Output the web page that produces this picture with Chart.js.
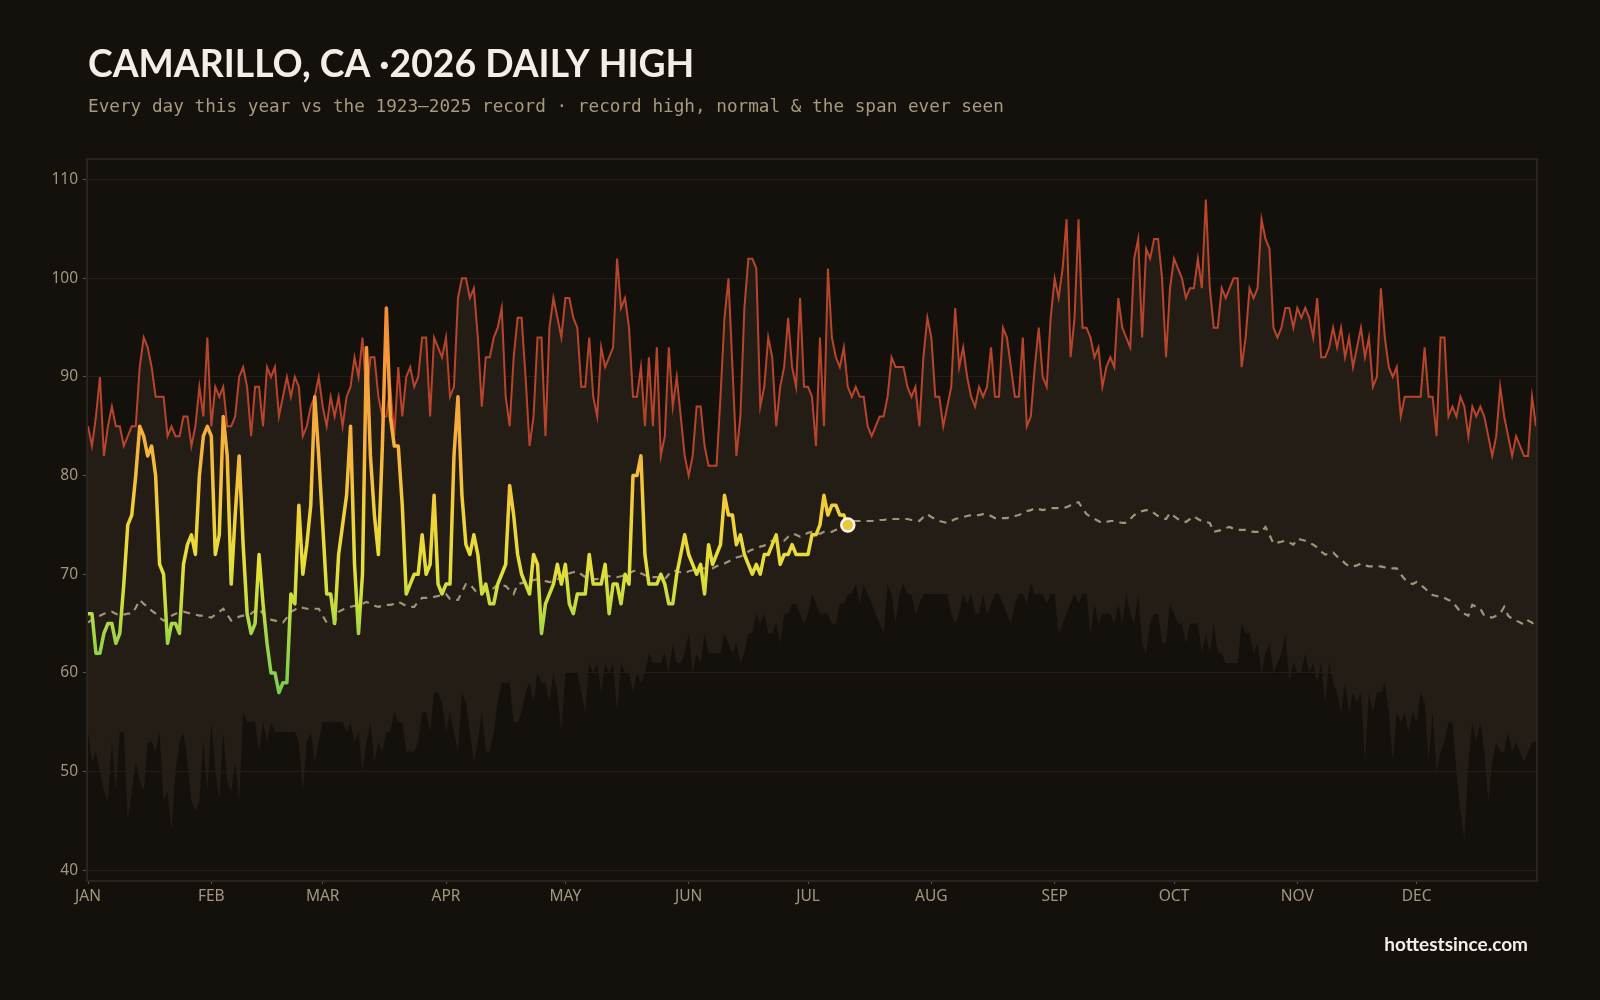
<!DOCTYPE html>
<html>
<head>
<meta charset="utf-8">
<title>Camarillo, CA · 2026 daily high</title>
<script src="https://cdn.jsdelivr.net/npm/chart.js@4.4.1/dist/chart.umd.min.js"></script>
<style>
  html, body { margin: 0; padding: 0; background: #14110d; }
  #wrap { position: relative; width: 1600px; height: 1000px; }
  canvas { display: block; }
</style>
</head>
<body>
<div id="wrap"><canvas id="chart" width="1600" height="1000"></canvas></div>
<script>
// ── DATA ──────────────────────────────────────────────
// day-of-year index 0..364
const monthStarts = [0, 31, 59, 90, 120, 151, 181, 212, 243, 273, 304, 334];
const monthLabels = ['JAN','FEB','MAR','APR','MAY','JUN','JUL','AUG','SEP','OCT','NOV','DEC'];
const yTicks = [40, 50, 60, 70, 80, 90, 100, 110];

// record high 1923–2025
const recordHigh = [
  85,83,86,90,82,85,87,85,85,83, 84,85,85,91,94,93,91,88,88,88,
  84,85,84,84,86,86,83,85,89,86, 94,85,89,88,89,85,85,86,90,91,
  89,84,89,89,85,91,90,91,86,88, 90,88,90,89,84,85,87,88,90,87,
  85,88,86,88,85,88,89,92,90,94, 88,92,92,88,86,86,89,84,91,86,
  90,91,89,90,94,94,86,94,93,92, 94,88,89,98,100,100,98,99,94,87,
  92,92,94,95,97,88,85,92,96,96, 90,83,86,94,94,84,95,98,96,94,
  98,98,96,95,89,89,94,88,86,93, 91,92,93,102,97,98,95,88,88,91,
  85,92,85,93,82,84,93,87,90,86, 82,80,82,87,87,83,81,81,81,88,
  96,100,91,82,86,97,102,102,101,87, 89,94,92,85,89,91,96,91,89,98,
  89,89,88,83,94,85,101,94,92,91, 93,89,88,89,88,88,85,84,85,86,
  86,88,92,91,91,91,89,88,89,85, 92,96,94,88,88,85,87,89,97,91,
  93,90,88,87,89,88,89,93,88,88, 95,94,91,88,88,94,85,86,91,95,
  90,89,96,100,98,101,106,92,96,106, 95,95,94,92,93,89,91,92,91,98,
  95,94,93,102,104,94,103,102,104,104, 100,92,99,102,101,100,98,99,99,102,
  99,108,99,95,95,99,98,99,100,100, 91,94,99,98,99,106,104,103,95,94,
  95,97,97,95,97,96,97,96,94,98, 92,92,93,95,93,95,92,94,91,93,
  95,92,94,89,90,99,94,91,90,91, 86,88,88,88,88,88,93,88,88,84,
  94,94,86,87,86,88,87,84,87,86, 87,86,84,82,84,89,86,84,82,84,
  83,82,82,88,85
];

// record low of the daily high 1923–2025
const recordLow = [
  54,51,52,50,48,47,53,48,54,54, 45,48,51,49,48,53,53,52,54,47,
  48,44,50,53,54,51,47,46,47,53, 48,55,50,47,54,49,48,51,47,56,
  55,55,55,52,55,53,55,54,54,54, 54,54,54,53,48,53,54,51,53,55,
  55,55,55,55,55,54,55,53,54,50, 53,55,51,53,52,54,54,56,55,55,
  52,52,52,53,56,56,54,58,58,57, 54,56,54,52,58,57,54,51,53,56,
  52,52,54,57,59,59,59,55,55,56, 58,59,57,60,59,59,57,60,58,54,
  60,60,60,60,58,56,61,60,61,58, 61,60,61,56,61,60,60,58,60,59,
  60,62,61,61,61,62,60,63,61,61, 62,64,60,62,61,64,62,62,62,62,
  64,63,62,63,61,62,64,64,66,65, 66,64,64,65,63,66,66,67,67,66,
  65,66,68,67,66,66,66,65,65,67, 67,68,68,69,67,69,68,67,66,65,
  64,69,68,65,68,69,68,68,66,67, 68,68,68,68,68,68,68,66,65,66,
  68,67,68,66,66,68,66,67,68,68, 67,66,65,67,68,68,67,69,68,68,
  68,67,68,68,64,65,66,67,68,67, 68,68,64,67,65,66,66,66,65,67,
  65,68,66,65,68,63,62,65,66,66, 63,63,67,66,65,65,63,65,65,65,
  62,64,62,65,62,62,61,61,61,61, 65,64,64,62,63,60,62,63,60,61,
  62,64,59,61,60,60,62,60,61,59, 61,57,61,59,58,56,59,56,58,57,
  58,51,58,56,58,58,59,56,51,56, 55,56,54,56,55,58,57,51,56,50,
  52,53,55,55,50,46,43,51,55,53, 55,52,47,51,53,52,52,54,52,53,
  52,51,52,53,53
];

// normal daily high
const normalHigh = [
  65.1,65.4,65.6,65.8,66.0,66.1,66.2,66.0,65.8,65.9, 66.0,66.0,66.6,67.4,67.0,66.7,66.3,66.0,65.6,65.3,
  65.5,65.8,66.0,66.1,66.2,66.1,66.0,65.9,65.8,65.8, 65.7,65.6,65.9,66.2,66.5,65.9,65.3,65.5,65.7,65.8,
  65.9,66.0,66.3,66.5,66.0,65.6,65.4,65.3,65.2,65.1, 65.6,66.2,66.4,66.7,66.6,66.5,66.5,66.5,66.5,65.8,
  65.1,65.1,65.1,66.2,66.4,66.6,66.7,66.8,66.9,67.0, 67.2,67.0,66.8,66.7,66.8,66.9,66.9,67.0,67.2,67.0,
  66.8,66.7,66.7,67.2,67.6,67.6,67.6,67.7,67.8,67.9, 68.0,67.5,67.4,67.4,68.2,69.0,69.0,68.5,68.0,68.1,
  68.3,68.3,68.6,69.0,68.9,68.8,68.4,68.0,69.0,69.1, 69.2,69.3,69.4,69.5,69.4,69.3,69.2,69.3,69.5,69.6,
  69.7,70.1,70.2,70.3,70.0,69.7,69.6,69.5,69.5,69.7, 69.9,69.8,69.7,69.7,69.8,69.9,70.1,70.3,70.4,70.1,
  69.9,69.8,69.7,69.7,69.6,69.5,70.0,70.4,70.3,70.2, 70.1,70.3,70.4,70.5,70.6,70.6,70.6,70.6,70.8,71.0,
  71.1,71.3,71.5,71.7,71.8,72.0,72.3,72.5,72.6,72.8, 72.9,73.2,73.4,73.4,73.4,73.4,73.8,74.1,74.0,73.8,
  74.0,74.2,74.3,74.2,74.1,74.3,74.3,74.3,74.5,74.6, 74.8,75.1,75.4,75.4,75.4,75.4,75.4,75.4,75.4,75.5,
  75.5,75.6,75.6,75.6,75.6,75.6,75.6,75.5,75.5,75.4, 75.8,76.1,75.8,75.6,75.4,75.3,75.2,75.4,75.6,75.7,
  75.8,75.9,76.0,76.0,76.0,76.1,76.1,75.9,75.7,75.7, 75.7,75.7,75.8,75.9,76.0,76.2,76.4,76.5,76.7,76.6,
  76.5,76.6,76.7,76.7,76.7,76.7,76.8,77.0,77.2,77.3, 76.7,76.1,75.8,75.6,75.4,75.2,75.3,75.4,75.4,75.3,
  75.2,75.2,75.6,76.0,76.3,76.4,76.5,76.5,76.2,75.9, 75.7,75.6,76.2,75.9,75.6,75.4,75.3,75.6,75.9,75.6,
  75.4,75.3,75.2,74.3,74.4,74.5,74.7,74.8,74.6,74.5, 74.5,74.5,74.4,74.3,74.3,74.3,74.8,74.0,73.1,73.2,
  73.3,73.4,73.2,73.0,73.6,73.5,73.4,73.2,73.0,72.7, 72.3,72.0,72.1,72.2,71.8,71.5,71.1,70.8,70.8,70.9,
  71.1,70.9,70.8,70.8,70.8,70.8,70.7,70.6,70.6,70.6, 70.0,69.5,69.2,69.0,69.2,68.9,68.6,68.2,67.9,67.8,
  67.7,67.6,67.4,67.2,66.7,66.2,66.0,65.8,66.9,66.7, 66.5,65.8,65.7,65.6,65.8,66.0,66.7,65.8,65.5,65.3,
  65.1,64.9,65.3,65.1,64.6
];

// 2026 observed daily high, Jan 1 – Jul 11
const high2026 = [
  66,66,62,62,64,65,65,63,64,69, 75,76,80,85,84,82,83,80,71,70,
  63,65,65,64,71,73,74,72,80,84, 85,84,72,74,86,82,69,76,82,73,
  66,64,65,72,67,63,60,60,58,59, 59,68,67,77,70,73,77,88,82,75,
  68,68,65,72,75,78,85,71,64,70, 93,82,76,72,83,97,86,83,83,77,
  68,69,70,70,74,70,71,78,69,68, 69,69,82,88,78,73,72,74,72,68,
  69,67,67,69,70,71,79,76,72,70, 69,68,72,71,64,67,68,69,71,69,
  71,67,66,68,68,68,72,69,69,69, 71,66,69,69,67,70,69,80,80,82,
  72,69,69,69,70,69,67,67,70,72, 74,72,71,70,71,68,73,71,72,73,
  78,76,76,73,74,72,71,70,71,70, 72,72,73,74,71,72,72,73,72,72,
  72,72,74,74,75,78,76,77,77,76, 76,75
];

// ── STYLE ─────────────────────────────────────────────
const C = {
  bg: '#14110d', span: '#241d15', grid: '#241e17', frame: '#2b241c', tick: '#5e5344',
  label: '#a3967c', high: '#b8452b', normal: '#a09479', title: '#f4efe6', sub: '#a89a7f',
};
const heatStops = [[58,'#7ccd4e'],[63,'#98d548'],[67,'#c6de3e'],[71,'#e6df3a'],[76,'#f0d13a'],[81,'#f5ba3e'],[88,'#f6a33b'],[97,'#f48c36']];

const pts = arr => arr.map((v, i) => ({ x: i, y: v }));
const lastIdx = high2026.length - 1;

function heatGradient(ctx) {
  const chart = ctx.chart;
  const { chartArea, scales } = chart;
  if (!chartArea) return heatStops[3][1];
  const y0 = scales.y.getPixelForValue(heatStops[0][0]);
  const y1 = scales.y.getPixelForValue(heatStops[heatStops.length - 1][0]);
  const g = chart.ctx.createLinearGradient(0, y0, 0, y1);
  const span = heatStops[heatStops.length - 1][0] - heatStops[0][0];
  heatStops.forEach(([v, c]) => g.addColorStop((v - heatStops[0][0]) / span, c));
  return g;
}

// ── TEXT + FRAME PLUGIN ───────────────────────────────
const decor = {
  id: 'decor',
  beforeDraw(chart) {
    const c = chart.ctx;
    c.save();
    c.fillStyle = C.bg;
    c.fillRect(0, 0, chart.width, chart.height);
    c.restore();
  },
  afterDraw(chart) {
    const c = chart.ctx, a = chart.chartArea;
    c.save();
    c.strokeStyle = C.frame;
    c.lineWidth = 2;
    c.strokeRect(a.left - 1, a.top - 1, a.right - a.left + 2, a.bottom - a.top + 2);

    c.textBaseline = 'alphabetic';
    c.textAlign = 'left';
    c.fillStyle = C.title;
    c.font = 'bold 37.3px Lato, "Open Sans", sans-serif';
    c.fillText('CAMARILLO, CA ·2026 DAILY HIGH', 88, 77);

    c.fillStyle = C.sub;
    c.font = '17.7px "DejaVu Sans Mono", monospace';
    c.fillText('Every day this year vs the 1923–2025 record · record high, normal & the span ever seen', 88, 112);

    c.textAlign = 'right';
    c.fillStyle = '#f4efe6';
    c.font = 'bold 19px Lato, "Open Sans", sans-serif';
    c.fillText('hottestsince.com', 1528, 951);
    c.restore();
  }
};

// ── CHART ─────────────────────────────────────────────
new Chart(document.getElementById('chart').getContext('2d'), {
  type: 'line',
  data: {
    datasets: [
      { label: 'Record low', data: pts(recordLow), borderWidth: 0, pointRadius: 0, fill: false, order: 5 },
      { label: 'Record high', data: pts(recordHigh), borderColor: C.high, borderWidth: 2, pointRadius: 0,
        tension: 0, fill: { target: 0 }, backgroundColor: C.span, order: 4 },
      { label: 'Normal', data: pts(normalHigh), borderColor: C.normal, borderWidth: 2.2, borderDash: [7, 6],
        pointRadius: 0, fill: false, order: 3 },
      { label: '2026', data: pts(high2026), borderColor: heatGradient, borderWidth: 3.5, pointRadius: 0,
        borderJoinStyle: 'round', borderCapStyle: 'round', fill: false, order: 2 },
      { label: 'Latest', data: [{ x: lastIdx, y: high2026[lastIdx] }], pointRadius: 6.5, pointBorderWidth: 2.5,
        pointBackgroundColor: '#e9c63b', pointBorderColor: '#fbf7ef', showLine: false, order: 1 },
    ],
  },
  options: {
    responsive: false, animation: false, devicePixelRatio: 1, parsing: false,
    layout: { padding: { left: 48, right: 64, top: 160, bottom: 90 } },
    plugins: { legend: { display: false }, tooltip: { enabled: false } },
    scales: {
      x: {
        type: 'linear', min: 0, max: 364,
        afterBuildTicks: axis => { axis.ticks = monthStarts.map(v => ({ value: v })); },
        afterFit: axis => { axis.height = 30; },
        ticks: { color: C.label, font: { family: '"Noto Sans", sans-serif', size: 15.5 }, padding: 3, maxRotation: 0,
          autoSkip: false, callback: v => monthLabels[monthStarts.indexOf(v)] },
        grid: { drawOnChartArea: false, drawTicks: true, tickLength: 4, tickColor: C.tick },
        border: { display: false },
      },
      y: {
        min: 39, max: 112,
        afterBuildTicks: axis => { axis.ticks = yTicks.map(v => ({ value: v })); },
        afterFit: axis => { axis.width = 40; },
        ticks: { color: C.label, font: { family: '"Noto Sans", sans-serif', size: 15.5 }, padding: 5 },
        grid: { color: C.grid, lineWidth: 1, drawTicks: true, tickLength: 5, tickColor: C.tick },
        border: { display: false },
      },
    },
  },
  plugins: [decor],
});
</script>
</body>
</html>
